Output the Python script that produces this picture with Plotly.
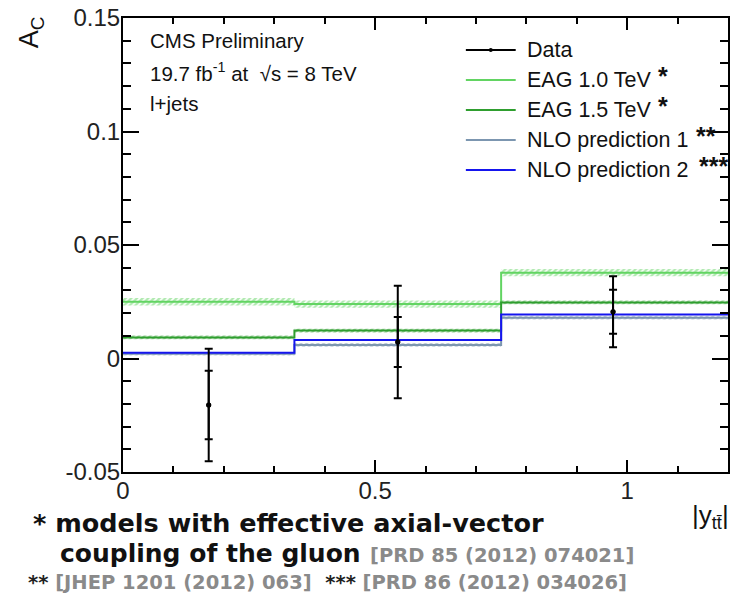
import plotly.graph_objects as go

# Binning in |y_tt| and the theory predictions per bin
bin_edges = [0.0, 0.34, 0.75, 1.2]
eag10 = [0.0250, 0.0240, 0.0378]
eag10_unc = [0.0016, 0.0016, 0.0016]
eag15 = [0.0093, 0.0123, 0.0247]
eag15_unc = [0.0008, 0.0008, 0.0008]
nlo1 = [0.0021, 0.0060, 0.0180]
nlo1_unc = [0.0008, 0.0008, 0.0008]
nlo2 = [0.0025, 0.0081, 0.0194]

# Measured charge asymmetry
data_x = [0.170, 0.545, 0.972]
data_y = [-0.0205, 0.0073, 0.0206]
data_stat = [0.0151, 0.0110, 0.0097]
data_tot = [0.0248, 0.0248, 0.0156]

x_ticks = [0, 0.5, 1]
x_ticktext = ["0", "0.5", "1"]
y_ticks = [-0.05, 0, 0.05, 0.1, 0.15]
y_ticktext = ["-0.05", "0", "0.05", "0.1", "0.15"]

C_EAG10 = "#62d462"
C_EAG15 = "#2f9e2f"
C_NLO1 = "#7c96b0"
C_NLO2 = "#1515ee"

W, H = 732, 593
ML, MR, MT, MB = 123, 2, 18, 121
PW, PH = W - ML - MR, H - MT - MB


def px(xp):
    return (xp - ML) / PW


def py(yp):
    return (MT + PH - yp) / PH


def step_xy(vals):
    return list(bin_edges), list(vals) + [vals[-1]]


def band_xy(vals, unc):
    xs, ys = [], []
    for i, v in enumerate(vals):
        xs += [bin_edges[i], bin_edges[i + 1]]
        ys += [v + unc[i], v + unc[i]]
    for i in reversed(range(len(vals))):
        xs += [bin_edges[i + 1], bin_edges[i]]
        ys += [vals[i] - unc[i], vals[i] - unc[i]]
    return xs + [xs[0]], ys + [ys[0]]


fig = go.Figure()

for vals, unc, col in [(eag10, eag10_unc, C_EAG10), (eag15, eag15_unc, C_EAG15),
                       (nlo1, nlo1_unc, C_NLO1)]:
    bx, by = band_xy(vals, unc)
    fig.add_trace(go.Scatter(
        x=bx, y=by, mode="lines", fill="toself", line=dict(width=0),
        fillcolor="rgba(0,0,0,0)",
        fillpattern=dict(shape="/", fgcolor=col, bgcolor="rgba(0,0,0,0)",
                         size=4, solidity=0.6),
        hoverinfo="skip", showlegend=False))

for vals, col in [(eag10, C_EAG10), (eag15, C_EAG15), (nlo1, C_NLO1), (nlo2, C_NLO2)]:
    sx, sy = step_xy(vals)
    fig.add_trace(go.Scatter(x=sx, y=sy, mode="lines", line_shape="hv",
                             line=dict(color=col, width=2), showlegend=False))

# total uncertainty
fig.add_trace(go.Scatter(
    x=data_x, y=data_y, mode="markers",
    marker=dict(color="black", size=5),
    error_y=dict(type="data", array=data_tot, color="black", thickness=2, width=4),
    showlegend=False))
# statistical uncertainty
fig.add_trace(go.Scatter(
    x=data_x, y=data_y, mode="markers",
    marker=dict(color="black", size=5),
    error_y=dict(type="data", array=data_stat, color="black", thickness=2, width=4),
    showlegend=False))

TXT = "Liberation Sans, Arial, Helvetica, sans-serif"
BOLD = "DejaVu Sans, Verdana, sans-serif"

annotations = []
shapes = []

# Legend
legend_items = [("Data", "black", ""), ("EAG 1.0 TeV", C_EAG10, "*"),
                ("EAG 1.5 TeV", C_EAG15, "*"), ("NLO prediction 1", C_NLO1, "**"),
                ("NLO prediction 2", C_NLO2, "***")]
star_x = [0, 658, 658, 696, 699]
for i, (name, col, star) in enumerate(legend_items):
    yc = 50 + 30 * i
    shapes.append(dict(type="line", xref="paper", yref="paper",
                       x0=px(467), x1=px(517), y0=py(yc), y1=py(yc),
                       line=dict(color=col, width=2)))
    annotations.append(dict(x=px(526), y=py(yc), xref="paper", yref="paper",
                            text=name, showarrow=False, xanchor="left", yanchor="middle",
                            font=dict(family=TXT, size=21.5, color="#111")))
    if star:
        annotations.append(dict(x=px(star_x[i]), y=py(yc - 4), xref="paper", yref="paper",
                                text="<b>" + star + "</b>", showarrow=False,
                                xanchor="left", yanchor="middle",
                                font=dict(family=TXT, size=25, color="#111")))
shapes.append(dict(type="circle", xref="paper", yref="paper",
                   x0=px(490), x1=px(494), y0=py(48), y1=py(52),
                   fillcolor="black", line=dict(width=0)))

# Header text
for txt, yc in [("CMS Preliminary", 41),
                ("19.7 fb<sup>-1</sup> at  √s = 8 TeV", 72),
                ("l+jets", 103)]:
    annotations.append(dict(x=px(148), y=py(yc), xref="paper", yref="paper", text=txt,
                            showarrow=False, xanchor="left", yanchor="middle",
                            font=dict(family=TXT, size=20.5, color="#111")))

# Axis titles
annotations.append(dict(x=px(31), y=py(32), xref="paper", yref="paper",
                        text="A<sub>C</sub>", textangle=-90, showarrow=False,
                        xanchor="center", yanchor="middle",
                        font=dict(family=TXT, size=27, color="#111")))
annotations.append(dict(x=px(712), y=py(516), xref="paper", yref="paper",
                        text="|y<sub>tt̄</sub>|", showarrow=False,
                        xanchor="center", yanchor="middle",
                        font=dict(family=TXT, size=26, color="#111")))

# Footnotes
annotations.append(dict(x=px(31), y=py(523), xref="paper", yref="paper",
                        text="<b>* models with effective axial-vector</b>", showarrow=False,
                        xanchor="left", yanchor="middle",
                        font=dict(family=BOLD, size=25.5, color="#111")))
annotations.append(dict(x=px(58), y=py(553), xref="paper", yref="paper",
                        text="<b>coupling of the gluon</b>", showarrow=False,
                        xanchor="left", yanchor="middle",
                        font=dict(family=BOLD, size=25, color="#111")))
annotations.append(dict(x=px(369), y=py(555), xref="paper", yref="paper",
                        text="<b>[PRD 85 (2012) 074021]</b>", showarrow=False,
                        xanchor="left", yanchor="middle",
                        font=dict(family=BOLD, size=19.5, color="#8a8a8a")))
annotations.append(dict(x=px(26), y=py(582), xref="paper", yref="paper",
                        text="<b><span style='color:#222'>**</span> [JHEP 1201 (2012) 063]  "
                             "<span style='color:#222'>***</span> [PRD 86 (2012) 034026]</b>",
                        showarrow=False, xanchor="left", yanchor="middle",
                        font=dict(family=BOLD, size=19.5, color="#8a8a8a")))

axis_common = dict(showline=True, linecolor="black", linewidth=2, mirror="allticks",
                   ticks="inside", tickcolor="black", tickwidth=1.5,
                   showgrid=False, zeroline=False, ticklabelstandoff=-4,
                   tickfont=dict(family=TXT, size=24, color="#222"))

fig.update_layout(
    width=W, height=H,
    margin=dict(l=ML, r=MR, t=MT, b=MB),
    paper_bgcolor="white", plot_bgcolor="white",
    showlegend=False,
    xaxis=dict(range=[0, 1.2], tickvals=x_ticks, ticktext=x_ticktext, ticklen=12,
               minor=dict(dtick=0.1, ticks="inside", ticklen=6, tickcolor="black", tickwidth=1.5),
               **axis_common),
    yaxis=dict(range=[-0.05, 0.15], tickvals=y_ticks, ticktext=y_ticktext, ticklen=16,
               minor=dict(dtick=0.01, ticks="inside", ticklen=8, tickcolor="black", tickwidth=1.5),
               **axis_common),
    annotations=annotations,
    shapes=shapes,
)

fig.write_html("out.html")
